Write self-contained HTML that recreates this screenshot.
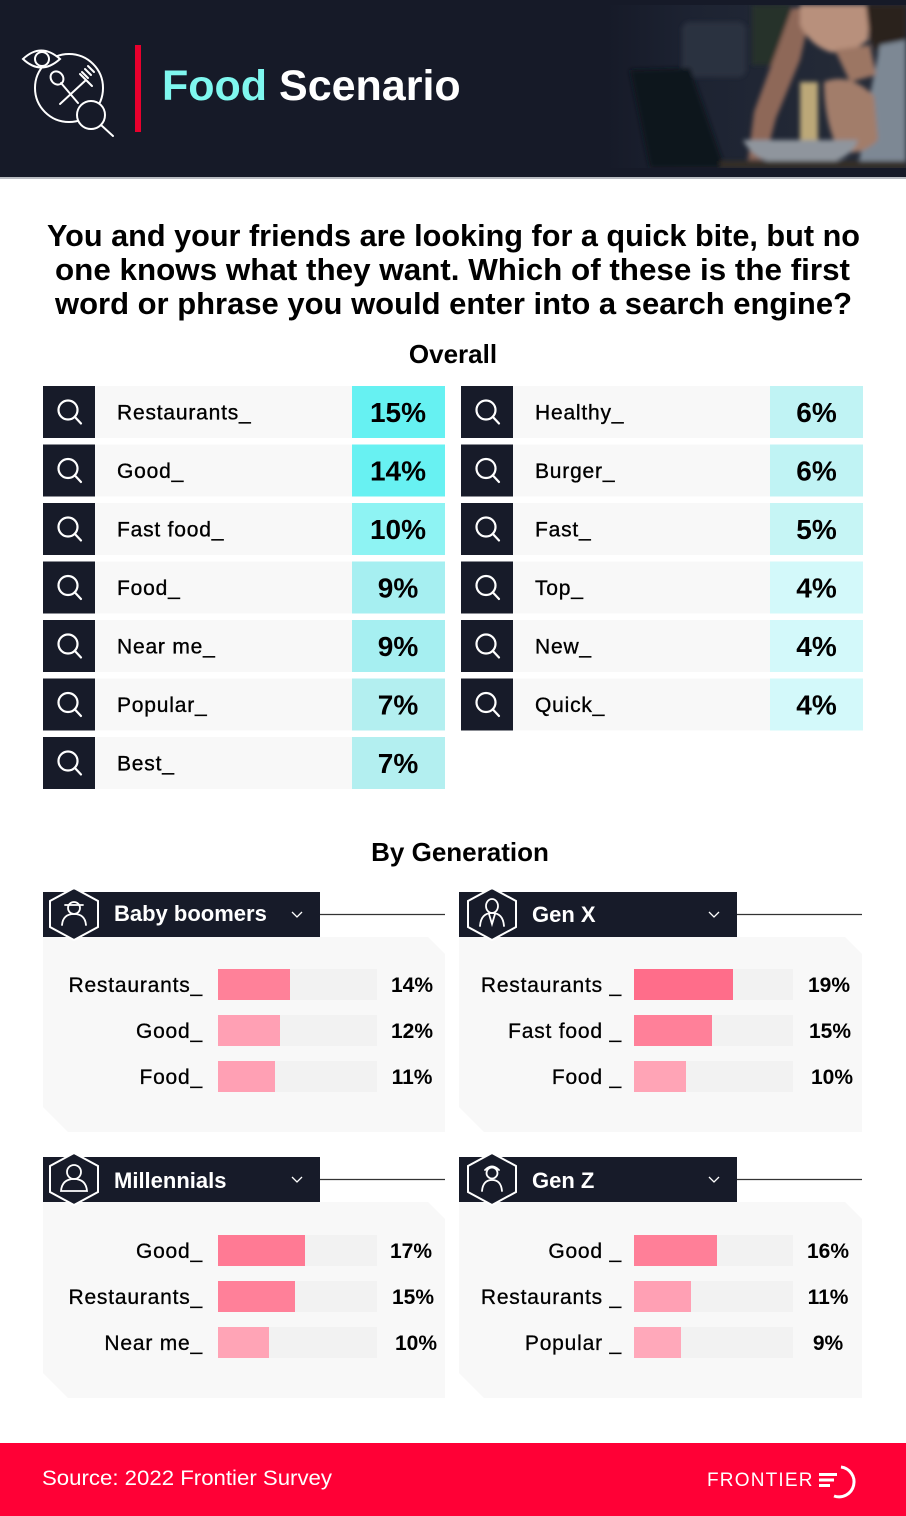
<!DOCTYPE html>
<html><head><meta charset="utf-8">
<style>
*{margin:0;padding:0}
html,body{width:906px;height:1516px;overflow:hidden;background:#fff}
svg{display:block}
text{font-family:"Liberation Sans",Arial,sans-serif}
</style></head>
<body>
<svg width="906" height="1516" viewBox="0 0 906 1516" xmlns="http://www.w3.org/2000/svg">
<defs>
<linearGradient id="pg" x1="0" x2="1" y1="0" y2="0">
<stop offset="0" stop-color="#161a28"/>
<stop offset="0.3" stop-color="#1d2332"/>
<stop offset="1" stop-color="#272d39"/>
</linearGradient>
<filter id="bl" x="-10%" y="-10%" width="120%" height="120%"><feGaussianBlur stdDeviation="2.5"/></filter>
<clipPath id="pc"><rect x="605" y="5" width="301" height="163"/></clipPath>
</defs>

<!-- HEADER -->
<rect x="0" y="0" width="906" height="178" fill="#161a28"/>
<rect x="0" y="177" width="906" height="2" fill="#b9bcc2"/>
<g clip-path="url(#pc)">
<rect x="605" y="5" width="301" height="163" fill="url(#pg)"/>
<g filter="url(#bl)">
<rect x="682" y="22" width="64" height="55" rx="8" fill="#2c333f"/>
<rect x="752" y="5" width="38" height="60" fill="#26322c"/>
<polygon points="630,70 690,68 725,168 650,168" fill="#10131b"/>
<polygon points="792,8 812,8 800,60 776,118 765,160 748,160 754,112 776,52" fill="#8e6858"/>
<path d="M800 5 L870 5 L868 40 Q850 55 830 52 Q810 45 800 25 Z" fill="#b8907c"/>
<polygon points="866,5 906,5 906,70 882,60 870,40" fill="#2a221f"/>
<polygon points="880,45 906,40 906,168 858,168 870,95" fill="#7d8894"/>
<polygon points="835,50 870,45 876,75 850,82" fill="#9c7664"/>
<path d="M824 82 Q850 72 874 96 L878 140 Q860 158 838 150 Q824 120 824 82Z" fill="#a27d6a"/>
<rect x="800" y="82" width="18" height="66" fill="#bca878"/>
<path d="M743 140 L858 140 Q850 165 800 168 Q755 165 743 140Z" fill="#8f959d"/>
<rect x="720" y="161" width="186" height="7" fill="#352f28"/>
</g>
</g>

<!-- header icon -->
<g fill="none" stroke="#fff" stroke-width="2" stroke-linecap="round">
<circle cx="69" cy="88" r="34"/>
<path d="M23 59 Q41 42 60 59 Q41 76 23 59Z" fill="#161a28"/>
<circle cx="42" cy="59" r="7"/>
<ellipse cx="57" cy="78" rx="6" ry="7" transform="rotate(-40 57 78)"/>
<line x1="61" y1="83" x2="78" y2="103"/>
<line x1="86" y1="80" x2="60" y2="104"/>
<path d="M80 74 L86 80 L92 86"/>
<line x1="82" y1="72" x2="88" y2="78"/>
<line x1="85" y1="69" x2="91" y2="75"/>
<line x1="88" y1="66" x2="94" y2="72"/>
<circle cx="91" cy="115" r="14" fill="#161a28"/>
<line x1="101" y1="125" x2="113" y2="136"/>
</g>
<rect x="135" y="45" width="6" height="87" fill="#e8002d"/>
<text x="162" y="100" font-size="43" font-weight="bold"><tspan fill="#7ff7ef">Food</tspan><tspan fill="#ffffff"> Scenario</tspan></text>

<!-- QUESTION -->
<g font-size="31" font-weight="bold" fill="#000">
<text x="47" y="246" textLength="813" lengthAdjust="spacingAndGlyphs">You and your friends are looking for a quick bite, but no</text>
<text x="55" y="280" textLength="795" lengthAdjust="spacingAndGlyphs">one knows what they want. Which of these is the first</text>
<text x="55" y="314" textLength="797" lengthAdjust="spacingAndGlyphs">word or phrase you would enter into a search engine?</text>
</g>
<text x="453" y="363" font-size="26" font-weight="bold" text-anchor="middle" fill="#000">Overall</text>

<!-- OVERALL LEFT -->
<g>
<rect x="43" y="386" width="52" height="52" fill="#171b29"/><rect x="95" y="386" width="257" height="52" fill="#f8f8f8"/><rect x="352" y="386" width="93" height="52" fill="#66f1f2"/>
<rect x="43" y="444.5" width="52" height="52" fill="#171b29"/><rect x="95" y="444.5" width="257" height="52" fill="#f8f8f8"/><rect x="352" y="444.5" width="93" height="52" fill="#68f1f2"/>
<rect x="43" y="503" width="52" height="52" fill="#171b29"/><rect x="95" y="503" width="257" height="52" fill="#f8f8f8"/><rect x="352" y="503" width="93" height="52" fill="#8ef3f3"/>
<rect x="43" y="561.5" width="52" height="52" fill="#171b29"/><rect x="95" y="561.5" width="257" height="52" fill="#f8f8f8"/><rect x="352" y="561.5" width="93" height="52" fill="#a6eff1"/>
<rect x="43" y="620" width="52" height="52" fill="#171b29"/><rect x="95" y="620" width="257" height="52" fill="#f8f8f8"/><rect x="352" y="620" width="93" height="52" fill="#a6eff1"/>
<rect x="43" y="678.5" width="52" height="52" fill="#171b29"/><rect x="95" y="678.5" width="257" height="52" fill="#f8f8f8"/><rect x="352" y="678.5" width="93" height="52" fill="#b3eff0"/>
<rect x="43" y="737" width="52" height="52" fill="#171b29"/><rect x="95" y="737" width="257" height="52" fill="#f8f8f8"/><rect x="352" y="737" width="93" height="52" fill="#b3eff0"/>
</g>
<!-- OVERALL RIGHT -->
<g>
<rect x="461" y="386" width="52" height="52" fill="#171b29"/><rect x="513" y="386" width="257" height="52" fill="#f8f8f8"/><rect x="770" y="386" width="93" height="52" fill="#c0f3f4"/>
<rect x="461" y="444.5" width="52" height="52" fill="#171b29"/><rect x="513" y="444.5" width="257" height="52" fill="#f8f8f8"/><rect x="770" y="444.5" width="93" height="52" fill="#c0f3f4"/>
<rect x="461" y="503" width="52" height="52" fill="#171b29"/><rect x="513" y="503" width="257" height="52" fill="#f8f8f8"/><rect x="770" y="503" width="93" height="52" fill="#c6f5f5"/>
<rect x="461" y="561.5" width="52" height="52" fill="#171b29"/><rect x="513" y="561.5" width="257" height="52" fill="#f8f8f8"/><rect x="770" y="561.5" width="93" height="52" fill="#d3f9fa"/>
<rect x="461" y="620" width="52" height="52" fill="#171b29"/><rect x="513" y="620" width="257" height="52" fill="#f8f8f8"/><rect x="770" y="620" width="93" height="52" fill="#d3f9fa"/>
<rect x="461" y="678.5" width="52" height="52" fill="#171b29"/><rect x="513" y="678.5" width="257" height="52" fill="#f8f8f8"/><rect x="770" y="678.5" width="93" height="52" fill="#d3f9fa"/>
</g>

<!-- magnifier icons -->
<g fill="none" stroke="#fff" stroke-width="2.2" stroke-linecap="round">
<circle cx="68" cy="410" r="9.5"/><line x1="74.7" y1="416.7" x2="81" y2="423.5"/>
<circle cx="68" cy="468.5" r="9.5"/><line x1="74.7" y1="475.2" x2="81" y2="482"/>
<circle cx="68" cy="527" r="9.5"/><line x1="74.7" y1="533.7" x2="81" y2="540.5"/>
<circle cx="68" cy="585.5" r="9.5"/><line x1="74.7" y1="592.2" x2="81" y2="599"/>
<circle cx="68" cy="644" r="9.5"/><line x1="74.7" y1="650.7" x2="81" y2="657.5"/>
<circle cx="68" cy="702.5" r="9.5"/><line x1="74.7" y1="709.2" x2="81" y2="716"/>
<circle cx="68" cy="761" r="9.5"/><line x1="74.7" y1="767.7" x2="81" y2="774.5"/>
<circle cx="486" cy="410" r="9.5"/><line x1="492.7" y1="416.7" x2="499" y2="423.5"/>
<circle cx="486" cy="468.5" r="9.5"/><line x1="492.7" y1="475.2" x2="499" y2="482"/>
<circle cx="486" cy="527" r="9.5"/><line x1="492.7" y1="533.7" x2="499" y2="540.5"/>
<circle cx="486" cy="585.5" r="9.5"/><line x1="492.7" y1="592.2" x2="499" y2="599"/>
<circle cx="486" cy="644" r="9.5"/><line x1="492.7" y1="650.7" x2="499" y2="657.5"/>
<circle cx="486" cy="702.5" r="9.5"/><line x1="492.7" y1="709.2" x2="499" y2="716"/>
</g>

<!-- overall labels -->
<g font-size="21" fill="#000" stroke="#000" stroke-width="0.35" letter-spacing="0.8">
<text x="117" y="419.5">Restaurants_</text>
<text x="117" y="478">Good_</text>
<text x="117" y="536.5">Fast food_</text>
<text x="117" y="595">Food_</text>
<text x="117" y="653.5">Near me_</text>
<text x="117" y="712">Popular_</text>
<text x="117" y="770.5">Best_</text>
<text x="535" y="419.5">Healthy_</text>
<text x="535" y="478">Burger_</text>
<text x="535" y="536.5">Fast_</text>
<text x="535" y="595">Top_</text>
<text x="535" y="653.5">New_</text>
<text x="535" y="712">Quick_</text>
</g>
<g font-size="28" font-weight="bold" fill="#000" text-anchor="middle">
<text x="398" y="422">15%</text>
<text x="398" y="480.5">14%</text>
<text x="398" y="539">10%</text>
<text x="398" y="597.5">9%</text>
<text x="398" y="656">9%</text>
<text x="398" y="714.5">7%</text>
<text x="398" y="773">7%</text>
<text x="816.5" y="422">6%</text>
<text x="816.5" y="480.5">6%</text>
<text x="816.5" y="539">5%</text>
<text x="816.5" y="597.5">4%</text>
<text x="816.5" y="656">4%</text>
<text x="816.5" y="714.5">4%</text>
</g>

<!-- BY GENERATION -->
<text x="460" y="861" font-size="26" font-weight="bold" text-anchor="middle" fill="#000">By Generation</text>

<!-- panel backgrounds -->
<polygon points="43,937 428,937 445,954 445,1132 68,1132 43,1107" fill="#f8f8f8"/>
<polygon points="459,937 845,937 862,954 862,1132 484,1132 459,1107" fill="#f8f8f8"/>
<polygon points="43,1202 428,1202 445,1219 445,1398 68,1398 43,1373" fill="#f8f8f8"/>
<polygon points="459,1202 845,1202 862,1219 862,1398 484,1398 459,1373" fill="#f8f8f8"/>

<!-- connector lines -->
<g stroke="#333" stroke-width="1.2">
<line x1="320" y1="914.5" x2="445" y2="914.5"/>
<line x1="737" y1="914.5" x2="862" y2="914.5"/>
<line x1="320" y1="1179.5" x2="445" y2="1179.5"/>
<line x1="737" y1="1179.5" x2="862" y2="1179.5"/>
</g>

<!-- headers -->
<rect x="43" y="892" width="277" height="45" fill="#171b29"/>
<rect x="459" y="892" width="278" height="45" fill="#171b29"/>
<rect x="43" y="1157" width="277" height="45" fill="#171b29"/>
<rect x="459" y="1157" width="278" height="45" fill="#171b29"/>

<g fill="#171b29" stroke="#fff" stroke-width="2">
<polygon points="74,888 98,901 98,927 74,940 50,927 50,901"/>
<polygon points="492,888 516,901 516,927 492,940 468,927 468,901"/>
<polygon points="74,1153 98,1166 98,1192 74,1205 50,1192 50,1166"/>
<polygon points="492,1153 516,1166 516,1192 492,1205 468,1192 468,1166"/>
</g>
<!-- person icons -->
<g fill="none" stroke="#fff" stroke-width="1.8" stroke-linecap="round">
<circle cx="74" cy="908" r="6"/><path d="M65 905 L83 905"/><path d="M62 925 Q63 914 74 914 Q85 914 86 925"/>
<ellipse cx="492" cy="906" rx="6" ry="7"/><path d="M480 926 Q481 913 492 913 Q503 913 504 926"/><path d="M489 914 L492 924 L495 914"/>
<circle cx="74" cy="1172" r="7"/><path d="M61 1191 Q62 1179 74 1179 Q86 1179 87 1191 Z"/>
<circle cx="492" cy="1173" r="5.5"/><path d="M485 1170 Q492 1163 499 1170"/><path d="M482 1191 Q483 1180 492 1180 Q501 1180 502 1191"/>
</g>

<g font-size="22" font-weight="bold" fill="#fff">
<text x="114" y="921">Baby boomers</text>
<text x="532" y="922">Gen X</text>
<text x="114" y="1188">Millennials</text>
<text x="532" y="1188">Gen Z</text>
</g>
<g fill="none" stroke="#fff" stroke-width="1.3">
<polyline points="292,912 297,917 302,912"/>
<polyline points="709,912 714,917 719,912"/>
<polyline points="292,1177 297,1182 302,1177"/>
<polyline points="709,1177 714,1182 719,1177"/>
</g>

<!-- tracks -->
<g fill="#f2f2f2">
<rect x="218" y="969" width="159" height="31"/><rect x="218" y="1015" width="159" height="31"/><rect x="218" y="1061" width="159" height="31"/>
<rect x="634" y="969" width="159" height="31"/><rect x="634" y="1015" width="159" height="31"/><rect x="634" y="1061" width="159" height="31"/>
<rect x="218" y="1235" width="159" height="31"/><rect x="218" y="1281" width="159" height="31"/><rect x="218" y="1327" width="159" height="31"/>
<rect x="634" y="1235" width="159" height="31"/><rect x="634" y="1281" width="159" height="31"/><rect x="634" y="1327" width="159" height="31"/>
</g>
<!-- bars -->
<rect x="218" y="969" width="72" height="31" fill="#ff8199"/>
<rect x="218" y="1015" width="62" height="31" fill="#ffa0b4"/>
<rect x="218" y="1061" width="57" height="31" fill="#ffa0b4"/>
<rect x="634" y="969" width="99" height="31" fill="#ff6d8a"/>
<rect x="634" y="1015" width="78" height="31" fill="#ff8099"/>
<rect x="634" y="1061" width="52" height="31" fill="#ffa4b6"/>
<rect x="218" y="1235" width="87" height="31" fill="#ff7a94"/>
<rect x="218" y="1281" width="77" height="31" fill="#ff8099"/>
<rect x="218" y="1327" width="51" height="31" fill="#ffa4b6"/>
<rect x="634" y="1235" width="83" height="31" fill="#ff7f98"/>
<rect x="634" y="1281" width="57" height="31" fill="#ffa0b4"/>
<rect x="634" y="1327" width="47" height="31" fill="#ffa8ba"/>

<!-- gen labels -->
<g font-size="21" fill="#000" stroke="#000" stroke-width="0.3" text-anchor="end" letter-spacing="0.8">
<text x="203" y="992">Restaurants_</text>
<text x="203" y="1038">Good_</text>
<text x="203" y="1084">Food_</text>
<text x="622" y="992">Restaurants _</text>
<text x="622" y="1038">Fast food _</text>
<text x="622" y="1084">Food _</text>
<text x="203" y="1258">Good_</text>
<text x="203" y="1304">Restaurants_</text>
<text x="203" y="1350">Near me_</text>
<text x="622" y="1258">Good _</text>
<text x="622" y="1304">Restaurants _</text>
<text x="622" y="1350">Popular _</text>
</g>
<g font-size="21" font-weight="bold" fill="#000" text-anchor="middle">
<text x="412" y="992">14%</text>
<text x="412" y="1038">12%</text>
<text x="412" y="1084">11%</text>
<text x="829" y="992">19%</text>
<text x="830" y="1038">15%</text>
<text x="832" y="1084">10%</text>
<text x="411" y="1258">17%</text>
<text x="413" y="1304">15%</text>
<text x="416" y="1350">10%</text>
<text x="828" y="1258">16%</text>
<text x="828" y="1304">11%</text>
<text x="828" y="1350">9%</text>
</g>

<!-- FOOTER -->
<rect x="0" y="1443" width="906" height="73" fill="#ff0036"/>
<text x="42" y="1485" font-size="21" fill="#fff" textLength="290" lengthAdjust="spacingAndGlyphs">Source: 2022 Frontier Survey</text>
<text x="707" y="1486" font-size="19" fill="#fff" letter-spacing="1.2">FRONTIER</text>
<g fill="#fff">
<rect x="819" y="1473" width="18" height="3"/>
<rect x="819" y="1478.5" width="15" height="3"/>
<rect x="819" y="1484" width="11" height="3"/>
</g>
<path d="M841 1467 A15 15 0 1 1 834 1496" fill="none" stroke="#fff" stroke-width="3"/>
</svg>
</body></html>
